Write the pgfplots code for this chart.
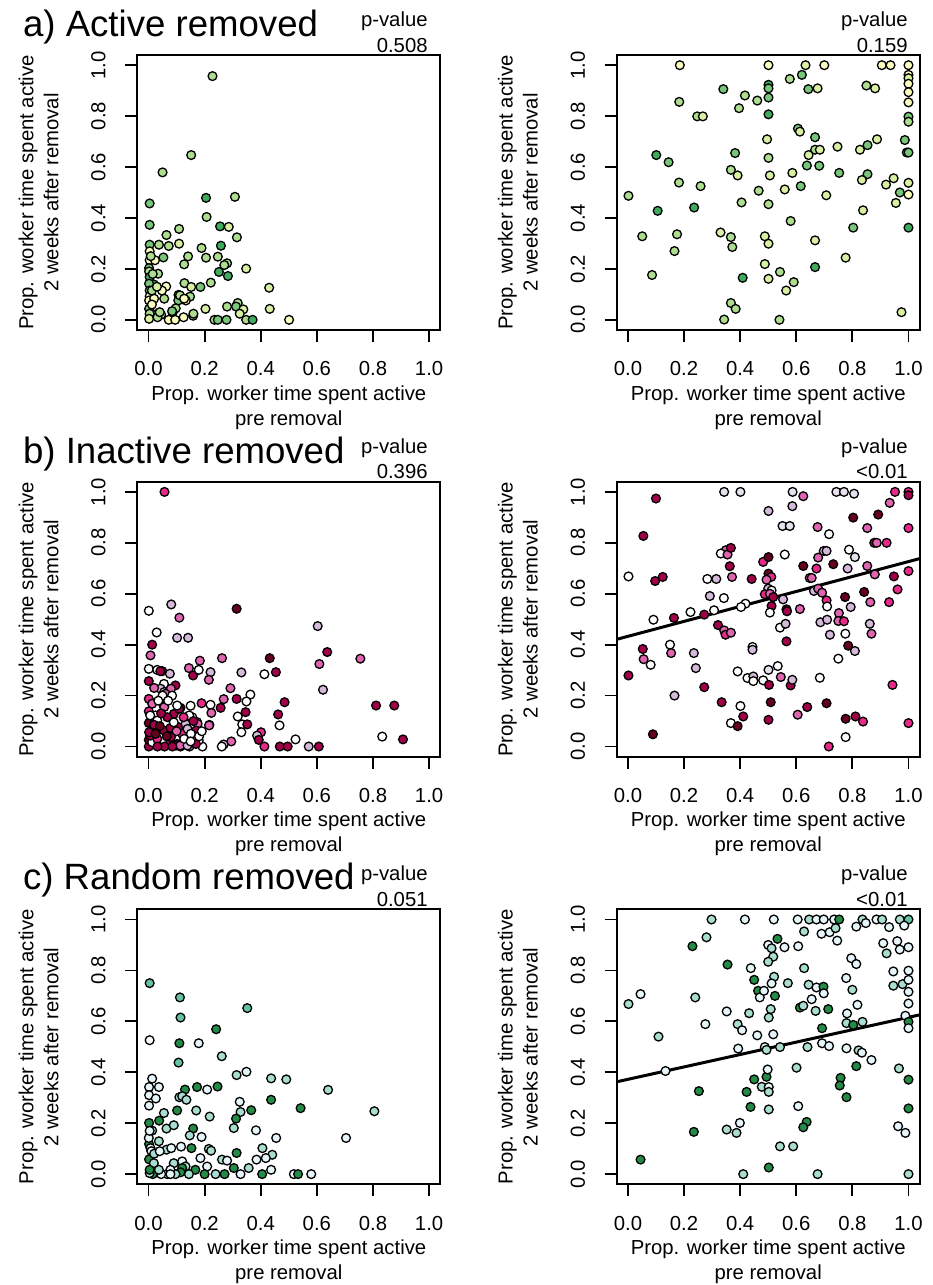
\documentclass[border=0pt]{standalone}
\usepackage{pgfplots}
\pgfplotsset{compat=1.18}
\usepackage{pgfplotstable}
\usepackage{fontspec}
\setmainfont{Liberation Sans}
\usetikzlibrary{calc}
\newcommand\axfont{\fontsize{10.15}{12.5}\selectfont}
\newcommand\titlefont{\fontsize{18.3}{22}\selectfont}
\definecolor{cay}{HTML}{FAFDBE}
\definecolor{cag}{HTML}{D9F0A3}
\definecolor{cal}{HTML}{ADDD8E}
\definecolor{cam}{HTML}{78C679}
\definecolor{cad}{HTML}{41AB5D}
\definecolor{cbw}{HTML}{FFFFFF}
\definecolor{cbv}{HTML}{E7E1EF}
\definecolor{cbl}{HTML}{D4B9DA}
\definecolor{cbp}{HTML}{DF65B0}
\definecolor{cbm}{HTML}{E7298A}
\definecolor{cbr}{HTML}{A3004A}
\definecolor{cbd}{HTML}{67001F}
\definecolor{ccw}{HTML}{F7FCFD}
\definecolor{ccp}{HTML}{E5F5F9}
\definecolor{ccl}{HTML}{A8DDCF}
\definecolor{ccm}{HTML}{66C2A4}
\definecolor{ccd}{HTML}{238B45}
\tikzset{mk/.style={draw=black, fill=#1, line width=0.65pt}}
\pgfplotsset{
  panel/.style={
    scale only axis, width=151.5pt, height=137.5pt,
    xmin=-0.04, xmax=1.04, ymin=-0.04, ymax=1.04,
    xtick={0,0.2,0.4,0.6,0.8,1}, ytick={0,0.2,0.4,0.6,0.8,1},
    xticklabels={0.0,0.2,0.4,0.6,0.8,1.0},
    yticklabels={0.0,0.2,0.4,0.6,0.8,1.0},
    tick align=outside, xtick pos=left, ytick pos=left,
    major tick length=6pt,
    axis line style={line width=0.9pt},
    every tick/.style={black, line width=0.9pt},
    ticklabel style={font=\axfont},
    xticklabel shift=6.3pt,
    yticklabel style={rotate=90, anchor=south},
    yticklabel shift=6.3pt,
  },
  pts/.style={
    scatter, only marks, scatter src=explicit symbolic, mark size=2.2pt,
    scatter/classes={
      ay={mark=*,mk=cay}, ag={mark=*,mk=cag}, al={mark=*,mk=cal}, am={mark=*,mk=cam}, ad={mark=*,mk=cad},
      bw={mark=*,mk=cbw}, bv={mark=*,mk=cbv}, bl={mark=*,mk=cbl}, bp={mark=*,mk=cbp}, bm={mark=*,mk=cbm}, br={mark=*,mk=cbr}, bd={mark=*,mk=cbd},
      cw={mark=*,mk=ccw}, cp={mark=*,mk=ccp}, cl={mark=*,mk=ccl}, cm={mark=*,mk=ccm}, cd={mark=*,mk=ccd}
    }
  }
}
\pgfplotstableread{
x y c
0.228 0.957 al
0.152 0.647 al
0.050 0.579 al
0.004 0.457 am
0.004 0.373 am
0.205 0.479 ad
0.308 0.483 al
0.207 0.404 al
0.255 0.367 ad
0.286 0.365 ag
0.315 0.324 al
0.064 0.333 al
0.109 0.357 al
0.109 0.299 ag
0.037 0.295 al
0.004 0.295 am
0.072 0.290 al
0.189 0.282 al
0.258 0.291 ad
0.053 0.245 am
0.141 0.249 al
0.205 0.244 al
0.247 0.248 al
0.127 0.218 al
0.280 0.222 al
0.270 0.215 al
0.348 0.201 ag
0.251 0.188 ad
0.283 0.172 ad
0.034 0.181 al
0.128 0.144 al
0.152 0.129 ag
0.185 0.129 am
0.222 0.146 al
0.019 0.139 ad
0.063 0.131 ay
0.430 0.126 ag
0.048 0.115 ay
0.107 0.098 al
0.148 0.091 al
0.056 0.083 al
0.106 0.076 am
0.133 0.076 ay
0.097 0.045 al
0.086 0.028 am
0.203 0.043 ag
0.318 0.066 al
0.280 0.052 al
0.312 0.052 am
0.338 0.041 ag
0.325 0.024 ag
0.432 0.043 ag
0.501 0.000 ay
0.159 0.016 al
0.160 0.024 al
0.235 0.000 al
0.247 0.000 am
0.278 0.000 am
0.348 0.000 al
0.371 0.000 ad
0.072 0.000 ay
0.095 0.000 ay
0.084 0.034 am
0.032 0.024 al
0.045 0.020 al
0.004 0.269 ay
0.004 0.234 ay
0.002 0.203 am
0.002 0.190 al
0.004 0.168 ad
0.002 0.142 am
0.004 0.115 am
0.004 0.092 ay
0.002 0.076 ay
0.002 0.043 am
0.004 0.024 al
0.002 0.004 ag
0.023 0.234 ay
0.020 0.083 ay
0.032 0.010 al
0.040 0.030 al
0.112 0.096 al
0.127 0.083 ay
0.015 0.180 al
0.008 0.250 al
0.012 0.060 ay
0.125 0.010 ay
0.012 0.115 al
0.030 0.130 ag
}\dataAL
\pgfplotstableread{
x y c
0.185 1.000 ay
0.501 1.000 ay
0.633 1.000 ag
0.700 1.000 ay
0.905 1.000 ay
0.936 1.000 ay
1.000 1.000 ay
1.000 0.962 ay
1.000 0.949 ag
1.000 0.927 ay
1.000 0.894 ay
1.000 0.854 ay
1.000 0.798 am
1.000 0.778 al
0.994 0.657 al
1.000 0.657 am
0.987 0.706 am
1.000 0.538 ag
1.000 0.492 ay
1.000 0.362 ad
0.969 0.500 am
0.955 0.459 ag
0.947 0.556 ag
0.920 0.531 ag
0.975 0.030 ag
0.888 0.709 ag
0.850 0.920 al
0.881 0.909 ag
0.854 0.686 am
0.827 0.668 ag
0.854 0.572 am
0.834 0.549 ag
0.838 0.430 ag
0.803 0.362 am
0.776 0.244 ag
0.747 0.680 ag
0.753 0.577 am
0.707 0.489 ag
0.667 0.717 am
0.667 0.668 al
0.684 0.668 ag
0.644 0.647 ag
0.638 0.606 am
0.682 0.605 am
0.667 0.312 ag
0.667 0.207 ad
0.676 0.909 ag
0.643 0.906 am
0.620 0.962 am
0.577 0.946 al
0.606 0.751 am
0.613 0.739 ag
0.616 0.525 am
0.586 0.577 ag
0.559 0.512 ag
0.580 0.388 al
0.542 0.188 al
0.591 0.148 al
0.564 0.115 ag
0.540 0.000 al
0.501 0.923 ad
0.501 0.909 am
0.501 0.873 am
0.501 0.807 ad
0.496 0.709 ag
0.501 0.636 al
0.506 0.567 ag
0.501 0.454 al
0.488 0.328 ag
0.501 0.299 ag
0.488 0.219 ag
0.501 0.161 ag
0.466 0.507 al
0.461 0.861 al
0.417 0.881 al
0.396 0.831 al
0.340 0.906 am
0.382 0.655 am
0.367 0.589 al
0.391 0.567 ag
0.405 0.461 al
0.330 0.343 ag
0.367 0.325 al
0.372 0.286 al
0.409 0.165 ad
0.367 0.066 al
0.384 0.043 al
0.343 0.001 al
0.247 0.799 al
0.267 0.799 ag
0.183 0.856 al
0.182 0.539 al
0.259 0.525 al
0.236 0.441 ad
0.175 0.336 al
0.166 0.270 al
0.101 0.647 ad
0.145 0.619 am
0.106 0.428 ad
0.051 0.328 al
0.086 0.176 al
0.002 0.487 al
}\dataAR
\pgfplotstableread{
x y c
0.057 1.000 bm
0.001 0.533 bw
0.081 0.558 bl
0.110 0.506 bp
0.314 0.541 bd
0.029 0.448 bw
0.102 0.427 bl
0.141 0.427 bl
0.013 0.400 br
0.007 0.358 bp
0.603 0.473 bl
0.637 0.371 br
0.609 0.324 bp
0.622 0.223 bl
0.755 0.345 bp
0.432 0.347 bd
0.454 0.292 br
0.413 0.284 bw
0.331 0.291 bl
0.262 0.347 bp
0.183 0.337 bp
0.221 0.292 bl
0.215 0.262 bp
0.144 0.308 bp
0.159 0.279 br
0.179 0.301 bw
0.292 0.229 bp
0.268 0.186 bp
0.314 0.187 br
0.363 0.204 bw
0.349 0.177 bw
0.318 0.118 bw
0.346 0.135 br
0.334 0.087 bw
0.352 0.087 br
0.257 0.152 br
0.221 0.164 bw
0.224 0.132 bp
0.217 0.085 bp
0.189 0.170 bm
0.401 0.056 bm
0.387 0.043 bl
0.393 0.026 br
0.413 0.000 bm
0.485 0.174 br
0.462 0.126 br
0.467 0.083 bw
0.468 0.000 br
0.496 0.000 br
0.524 0.028 bw
0.571 0.000 bl
0.607 0.000 br
0.811 0.161 br
0.876 0.161 br
0.833 0.039 bw
0.907 0.028 br
0.331 0.056 bw
0.295 0.020 bp
0.268 0.008 bl
0.261 0.000 bw
0.192 0.000 bw
0.146 0.000 bl
0.001 0.257 br
0.001 0.305 bw
0.031 0.301 bw
0.049 0.296 br
0.042 0.296 br
0.076 0.286 bl
0.055 0.246 bw
0.043 0.227 bl
0.096 0.240 br
0.056 0.214 bl
0.080 0.227 bp
0.061 0.207 bp
0.084 0.200 bw
0.050 0.200 bw
0.001 0.187 bm
0.013 0.168 bp
0.055 0.157 bp
0.114 0.152 br
0.090 0.128 br
0.109 0.148 br
0.025 0.122 bw
0.001 0.138 bm
0.001 0.092 bd
0.013 0.069 br
0.055 0.063 br
0.078 0.073 br
0.108 0.076 br
0.132 0.089 bl
0.156 0.115 bw
0.145 0.122 bw
0.173 0.096 bw
0.175 0.089 bp
0.120 0.050 bm
0.138 0.030 bw
0.102 0.010 br
0.078 0.021 br
0.057 0.000 br
0.031 0.004 bm
0.001 0.000 br
0.001 0.026 bd
0.013 0.017 bw
0.031 0.030 bm
0.114 0.000 bm
0.179 0.024 bw
0.170 0.063 br
0.160 0.043 bp
0.139 0.069 bl
0.031 0.102 bw
0.067 0.115 br
0.007 0.043 br
0.102 0.161 bw
0.056 0.155 bp
0.002 0.056 br
0.032 0.000 br
0.080 0.037 br
0.098 0.004 br
0.169 0.010 br
0.113 0.004 bp
0.139 0.004 bl
0.216 0.083 bp
0.127 0.030 bw
0.151 0.050 bw
0.006 0.122 bw
0.020 0.085 br
0.040 0.080 bd
0.065 0.040 bd
0.090 0.095 bw
0.125 0.115 bm
0.150 0.160 bw
0.035 0.180 bw
0.070 0.180 bw
0.020 0.230 bp
0.100 0.060 bp
0.160 0.100 br
0.180 0.040 bw
0.045 0.130 br
0.025 0.050 bd
0.085 0.000 br
0.150 0.020 bw
0.190 0.060 bw
}\dataBL
\pgfplotstableread{
x y c
0.002 0.668 bw
0.002 0.279 br
0.100 0.974 br
0.055 0.827 br
0.097 0.650 br
0.124 0.666 br
0.091 0.498 bw
0.164 0.505 br
0.053 0.383 br
0.056 0.343 bp
0.081 0.321 bw
0.150 0.400 bw
0.154 0.367 bp
0.166 0.200 bl
0.089 0.048 bd
0.223 0.528 bw
0.272 0.518 br
0.283 0.658 bw
0.315 0.658 bl
0.292 0.591 bl
0.307 0.535 bw
0.342 0.583 bw
0.321 0.477 br
0.343 0.456 bp
0.348 0.439 bm
0.367 0.447 bp
0.349 0.771 bp
0.331 0.758 bw
0.355 0.754 bp
0.367 0.780 br
0.363 0.708 br
0.371 0.666 bp
0.343 1.000 bv
0.401 1.000 bv
0.235 0.367 bl
0.242 0.308 bl
0.272 0.233 br
0.334 0.174 br
0.391 0.295 bw
0.401 0.159 bw
0.367 0.092 bw
0.391 0.080 bd
0.411 0.118 br
0.426 0.269 bw
0.447 0.275 bl
0.447 0.257 bw
0.444 0.391 bw
0.444 0.380 bl
0.419 0.561 bw
0.403 0.548 bw
0.441 0.658 br
0.482 0.260 bw
0.501 0.301 bv
0.503 0.242 br
0.509 0.174 bd
0.501 0.105 br
0.534 0.316 bw
0.545 0.273 bp
0.580 0.240 br
0.586 0.262 bl
0.605 0.125 bp
0.639 0.155 br
0.501 0.925 bl
0.586 0.944 bl
0.587 1.000 bv
0.625 0.983 bp
0.551 0.866 bv
0.577 0.866 bv
0.559 0.754 bw
0.482 0.725 bm
0.501 0.744 bd
0.501 0.679 bd
0.511 0.666 bm
0.494 0.655 bp
0.500 0.620 bl
0.512 0.613 bw
0.488 0.598 bm
0.506 0.600 bp
0.518 0.587 br
0.512 0.552 br
0.506 0.526 bw
0.553 0.578 bl
0.565 0.539 bd
0.567 0.531 br
0.542 0.467 bw
0.562 0.482 bl
0.565 0.413 br
0.613 0.540 bp
0.625 0.709 bd
0.648 0.662 bp
0.655 0.662 bp
0.672 0.699 bm
0.678 0.742 bp
0.676 0.862 bp
0.717 0.834 bw
0.698 0.768 bl
0.708 0.768 bl
0.732 0.716 bd
0.663 0.611 bl
0.678 0.620 bp
0.692 0.604 bp
0.708 0.574 bm
0.710 0.550 bw
0.686 0.488 bl
0.710 0.498 bl
0.720 0.439 bl
0.684 0.270 bw
0.708 0.170 bd
0.716 0.000 bm
0.750 0.345 bw
0.752 0.524 bp
0.750 0.493 bp
0.770 0.492 bm
0.774 0.587 bd
0.775 0.443 bw
0.783 0.699 bl
0.788 0.773 bw
0.809 0.744 bv
0.794 0.548 bl
0.785 0.396 bd
0.809 0.375 bl
0.776 0.109 bd
0.811 0.118 br
0.838 0.098 bm
0.776 0.037 bw
0.743 1.000 bv
0.770 1.000 bv
0.806 0.993 bv
0.803 0.899 bd
0.842 0.607 bd
0.853 0.858 bp
0.853 0.709 bp
0.880 0.676 bp
0.864 0.567 bp
0.862 0.482 bl
0.868 0.443 bp
0.878 0.800 br
0.887 0.800 bp
0.922 0.800 bm
0.892 0.911 bd
0.931 0.567 bm
0.933 0.957 bp
0.948 0.668 br
0.961 0.617 bm
0.943 0.242 bm
0.952 1.000 bm
1.000 1.000 bm
1.000 0.987 br
1.000 0.858 bm
1.000 0.689 bm
1.000 0.092 bm
}\dataBR
\pgfplotstableread{
x y c
0.004 0.750 cm
0.112 0.694 cm
0.114 0.615 cm
0.352 0.652 cm
0.004 0.526 cw
0.110 0.514 cd
0.179 0.514 cp
0.241 0.569 cd
0.107 0.438 cm
0.261 0.463 cl
0.013 0.375 cp
0.002 0.342 cp
0.037 0.342 cp
0.002 0.310 cp
0.026 0.297 cp
0.002 0.269 cp
0.130 0.332 cd
0.173 0.342 cd
0.209 0.332 cp
0.246 0.344 cd
0.314 0.389 cl
0.349 0.402 cp
0.437 0.376 cl
0.491 0.372 cl
0.640 0.331 cl
0.805 0.247 cl
0.704 0.142 cp
0.437 0.292 cd
0.542 0.259 cd
0.325 0.284 cp
0.328 0.244 cl
0.366 0.251 cd
0.312 0.218 cd
0.304 0.181 cl
0.383 0.172 cp
0.455 0.142 cp
0.110 0.302 cl
0.120 0.306 cl
0.135 0.292 cl
0.055 0.240 cl
0.102 0.250 cd
0.170 0.250 cl
0.218 0.226 cl
0.038 0.210 cd
0.002 0.201 cd
0.013 0.171 cl
0.064 0.179 cl
0.090 0.192 cl
0.159 0.179 cd
0.147 0.152 cl
0.189 0.146 cp
0.037 0.129 cl
0.002 0.118 cd
0.064 0.096 cl
0.081 0.102 cp
0.116 0.108 cp
0.153 0.102 cd
0.215 0.099 cl
0.223 0.092 cl
0.314 0.083 cd
0.406 0.102 cl
0.441 0.076 cl
0.385 0.057 cp
0.418 0.063 cp
0.262 0.057 cl
0.280 0.053 cp
0.185 0.063 cp
0.002 0.058 cd
0.019 0.043 cl
0.090 0.043 cl
0.120 0.050 cp
0.132 0.030 cl
0.209 0.030 cp
0.357 0.024 cl
0.304 0.024 cd
0.167 0.017 cd
0.120 0.024 cd
0.437 0.017 cp
0.405 0.000 cd
0.328 0.000 cp
0.271 0.000 cd
0.239 0.000 cl
0.200 0.000 cd
0.144 0.000 cl
0.114 0.007 cd
0.096 0.000 cl
0.067 0.000 cp
0.045 0.000 cp
0.015 0.000 cd
0.004 0.004 cl
0.004 0.017 cd
0.518 0.000 cp
0.533 0.000 cd
0.580 0.000 cp
0.007 0.102 cp
0.010 0.090 cp
0.020 0.080 cl
0.037 0.017 cl
0.078 0.017 cp
0.078 0.000 cp
0.001 0.142 cp
0.004 0.170 cp
0.040 0.090 cp
}\dataCL
\pgfplotstableread{
x y c
0.002 0.668 cl
0.045 0.707 cp
0.045 0.057 cd
0.109 0.540 cl
0.134 0.405 cp
0.230 0.895 cd
0.240 0.694 cl
0.235 0.166 cd
0.253 0.326 cd
0.276 0.589 cp
0.280 0.930 cl
0.298 1.000 cl
0.355 0.823 cd
0.352 0.639 cp
0.352 0.175 cl
0.399 0.201 cp
0.387 0.162 cl
0.393 0.493 cp
0.391 0.589 cl
0.407 0.565 cp
0.417 1.000 cp
0.438 0.809 cp
0.432 0.632 cl
0.450 0.763 cd
0.464 0.720 cd
0.470 0.694 cp
0.485 0.720 cp
0.461 0.545 cp
0.488 0.499 cp
0.494 0.488 cl
0.450 0.372 cd
0.423 0.323 cd
0.437 0.264 cd
0.477 0.343 cl
0.502 0.342 cp
0.502 0.323 cl
0.494 0.382 cd
0.498 0.411 cp
0.502 0.254 cl
0.502 0.026 cd
0.411 0.000 cl
0.542 0.109 cl
0.589 0.109 cl
0.542 0.499 cl
0.520 1.000 cp
0.533 0.924 cd
0.500 0.900 cp
0.512 0.887 cl
0.518 0.854 cl
0.500 0.834 cl
0.558 0.891 cp
0.521 0.775 cl
0.512 0.749 cp
0.524 0.700 cd
0.509 0.648 cl
0.502 0.615 cl
0.518 0.549 cp
0.570 0.750 cl
0.605 1.000 cp
0.646 1.000 cl
0.672 1.000 cp
0.698 1.000 cp
0.735 1.000 cp
0.753 1.000 cd
0.628 0.953 cl
0.607 0.895 cp
0.628 0.809 cl
0.601 0.418 cl
0.607 0.267 cp
0.637 0.205 cd
0.625 0.184 cd
0.613 0.654 cd
0.625 0.661 cl
0.644 0.744 cl
0.655 0.687 cp
0.669 0.641 cl
0.672 0.733 cp
0.690 0.944 cp
0.697 0.736 cd
0.698 0.710 cp
0.714 0.648 cd
0.692 0.573 cd
0.640 0.499 cl
0.692 0.514 cp
0.717 0.503 cp
0.676 0.000 cl
0.719 0.950 cp
0.740 0.966 cl
0.746 0.917 cp
0.778 0.770 cp
0.800 0.724 cl
0.781 0.631 cp
0.779 0.593 cl
0.803 0.586 cd
0.818 0.665 cp
0.796 0.848 cp
0.814 0.825 cp
0.814 0.972 cp
0.836 1.000 cl
0.848 0.986 cp
0.836 0.598 cl
0.779 0.494 cp
0.822 0.486 cl
0.834 0.477 cp
0.868 0.448 cp
0.814 0.424 cd
0.758 0.378 cd
0.755 0.348 cd
0.779 0.302 cd
0.886 1.000 cp
0.906 1.000 cl
0.931 0.970 cp
0.910 0.907 cp
0.922 0.867 cl
0.946 0.796 cp
0.946 0.740 cl
0.979 0.746 cl
0.969 1.000 cl
1.000 1.000 cm
0.985 0.976 cp
0.960 0.915 cp
0.969 0.882 cp
1.000 0.891 cp
1.000 0.799 cp
1.000 0.763 cp
1.000 0.716 cp
1.000 0.670 cp
0.989 0.622 cp
1.000 0.598 cd
1.000 0.573 cp
0.966 0.415 cl
1.000 0.371 cd
1.000 0.258 cd
0.963 0.188 cp
0.989 0.162 cp
1.000 0.000 cl
}\dataCR
\begin{document}
\begin{tikzpicture}
\useasboundingbox (0,0) rectangle (466pt,-642.5pt);
% ---------- row a
\begin{axis}[panel, name=aL, at={(68.65pt,-27.5pt)}, anchor=north west]
\addplot[pts] table[x=x,y=y,meta=c] {\dataAL};
\end{axis}
\begin{axis}[panel, name=aR, at={(308.35pt,-27.5pt)}, anchor=north west]
\addplot[pts] table[x=x,y=y,meta=c] {\dataAR};
\end{axis}
% ---------- row b
\begin{axis}[panel, name=bL, at={(68.65pt,-240.85pt)}, anchor=north west]
\addplot[pts] table[x=x,y=y,meta=c] {\dataBL};
\end{axis}
\begin{axis}[panel, name=bR, at={(308.35pt,-240.85pt)}, anchor=north west]
\addplot[pts] table[x=x,y=y,meta=c] {\dataBR};
\addplot[black, line width=1.5pt] coordinates {(-0.04,0.421) (1.04,0.738)};
\end{axis}
% ---------- row c
\begin{axis}[panel, name=cL, at={(68.65pt,-454.65pt)}, anchor=north west]
\addplot[pts] table[x=x,y=y,meta=c] {\dataCL};
\end{axis}
\begin{axis}[panel, name=cR, at={(308.35pt,-454.65pt)}, anchor=north west]
\addplot[pts] table[x=x,y=y,meta=c] {\dataCR};
\addplot[black, line width=1.5pt] coordinates {(-0.04,0.3626) (1.04,0.6255)};
\end{axis}
% ---------- axis titles (base anchor = baseline of last line)
\foreach \n in {aL,aR,bL,bR,cL,cR}{
  \node[font=\axfont, align=center, anchor=base, inner sep=0pt] at ([yshift=-47.5pt]\n.south) {Prop. worker time spent active\\pre removal};
  \node[font=\axfont, align=center, anchor=base, inner sep=0pt, rotate=90] at ([xshift=-39.5pt]\n.west) {Prop. worker time spent active\\2 weeks after removal};
}
% ---------- panel titles and p-values
\node[font=\titlefont, anchor=base west, inner sep=0pt] at (11.35pt,-18.35pt) {a) Active removed};
\node[font=\titlefont, anchor=base west, inner sep=0pt] at (11.35pt,-231.65pt) {b) Inactive removed};
\node[font=\titlefont, anchor=base west, inner sep=0pt] at (11.35pt,-444.65pt) {c) Random removed};
\node[font=\axfont, anchor=base east, inner sep=0pt] at (214pt,-13.35pt) {p-value};
\node[font=\axfont, anchor=base east, inner sep=0pt] at (214pt,-26.15pt) {0.508};
\node[font=\axfont, anchor=base east, inner sep=0pt] at (454pt,-13.35pt) {p-value};
\node[font=\axfont, anchor=base east, inner sep=0pt] at (454pt,-26.15pt) {0.159};
\node[font=\axfont, anchor=base east, inner sep=0pt] at (214pt,-226.65pt) {p-value};
\node[font=\axfont, anchor=base east, inner sep=0pt] at (214pt,-239.15pt) {0.396};
\node[font=\axfont, anchor=base east, inner sep=0pt] at (454pt,-226.65pt) {p-value};
\node[font=\axfont, anchor=base east, inner sep=0pt] at (454pt,-239.15pt) {<0.01};
\node[font=\axfont, anchor=base east, inner sep=0pt] at (214pt,-440pt) {p-value};
\node[font=\axfont, anchor=base east, inner sep=0pt] at (214pt,-453pt) {0.051};
\node[font=\axfont, anchor=base east, inner sep=0pt] at (454pt,-440pt) {p-value};
\node[font=\axfont, anchor=base east, inner sep=0pt] at (454pt,-453pt) {<0.01};
\end{tikzpicture}
\end{document}
